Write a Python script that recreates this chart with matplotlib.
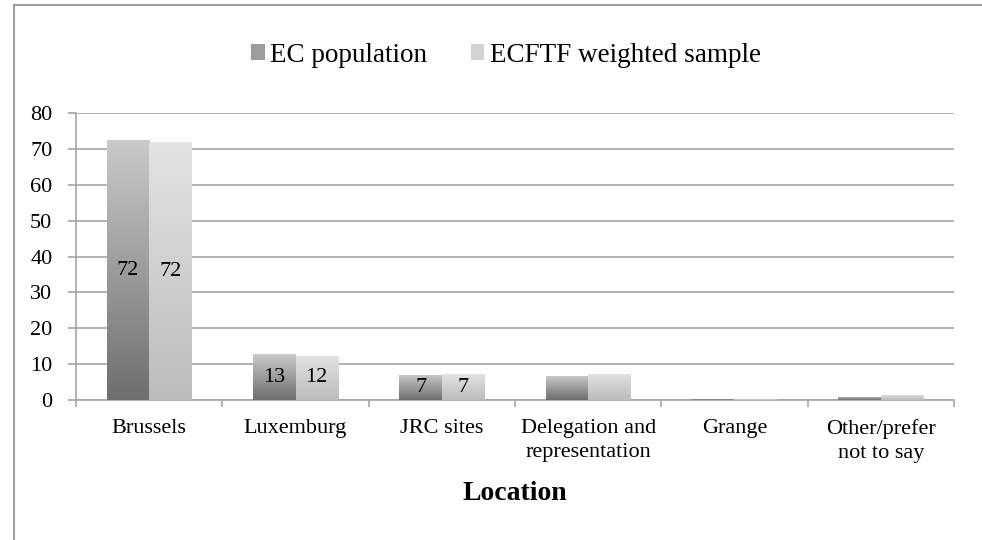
import numpy as np
import matplotlib
matplotlib.use('Agg')
import matplotlib.pyplot as plt
from matplotlib.colors import LinearSegmentedColormap
from matplotlib.patches import Patch
from matplotlib.lines import Line2D

plt.rcParams['font.family'] = ['Liberation Serif', 'DejaVu Serif']

categories = ['Brussels', 'Luxemburg', 'JRC sites', 'Delegation and\nrepresentation',
              'Grange', 'Other/prefer\nnot to say']
ec_population = [72.4, 12.8, 7.1, 6.7, 0.3, 0.9]
ecftf_sample = [71.9, 12.4, 7.2, 7.3, 0.3, 1.4]
labelled = [True, True, True, False, False, False]
series_names = ['EC population', 'ECFTF weighted sample']

# bottom -> top colours of the bar gradients
ec_cmap = LinearSegmentedColormap.from_list('ec', ['#6e6e6e', '#cacaca'])
ecftf_cmap = LinearSegmentedColormap.from_list('ecftf', ['#bcbcbc', '#e3e3e3'])

fig = plt.figure(figsize=(9.82, 5.4), dpi=100)
ax = fig.add_axes([76/982, 1 - 400/540, (954 - 76)/982, (400 - 113)/540])

x = np.arange(len(categories))
w = 0.29
grad = np.linspace(0, 1, 256).reshape(-1, 1)

for vals, offs, cmap in [(ec_population, -w/2, ec_cmap), (ecftf_sample, w/2, ecftf_cmap)]:
    bars = ax.bar(x + offs, vals, w, color='none', edgecolor='none', zorder=3)
    for b, v in zip(bars, vals):
        im = ax.imshow(grad, cmap=cmap, origin='lower', aspect='auto',
                       extent=[b.get_x(), b.get_x() + b.get_width(), 0, v], zorder=3)
        im.set_clip_path(b)
    for i, (b, v) in enumerate(zip(bars, vals)):
        if labelled[i]:
            ax.text(b.get_x() + b.get_width()/2, v/2, f"{v:.0f}", ha='center', va='center',
                    fontsize=16, color='black', zorder=4)

ax.set_xlim(-0.5, len(categories) - 0.5)
ax.set_ylim(0, 80)
ax.set_yticks(range(0, 81, 10))
ax.yaxis.grid(True, color='#a6a6a6', lw=1.2)
ax.set_axisbelow(True)

ax.set_xticks(x)
ax.set_xticklabels(categories, fontsize=16, linespacing=1.3)
ax.set_xticks(np.arange(-0.5, len(categories), 1), minor=True)
ax.tick_params(axis='x', which='major', length=0, pad=14)
ax.tick_params(axis='x', which='minor', length=5, width=1.2, color='#a6a6a6')
ax.tick_params(axis='y', length=6, width=1.2, color='#a6a6a6', labelsize=16, pad=11)
ax.set_xlabel('Location', fontsize=20, fontweight='bold', labelpad=13)

for s in ['top', 'right']:
    ax.spines[s].set_visible(False)
for s in ['left', 'bottom']:
    ax.spines[s].set_color('#a6a6a6')
    ax.spines[s].set_linewidth(1.2)

handles = [Patch(facecolor='#9c9c9c', edgecolor='none'),
           Patch(facecolor='#d2d2d2', edgecolor='none')]
fig.legend(handles, series_names, loc='center', bbox_to_anchor=(506/982, 1 - 55/540),
           ncol=2, frameon=False, fontsize=19.5, handlelength=0.5, handleheight=0.5,
           handletextpad=0.2, columnspacing=1.6)

# chart area border
fig.add_artist(Line2D([14/982, 1], [1 - 5/540, 1 - 5/540], color='#a0a0a0', lw=1.5))
fig.add_artist(Line2D([14/982, 14/982], [0, 1 - 5/540], color='#a0a0a0', lw=1.5))

fig.savefig('out.png', dpi=100)
